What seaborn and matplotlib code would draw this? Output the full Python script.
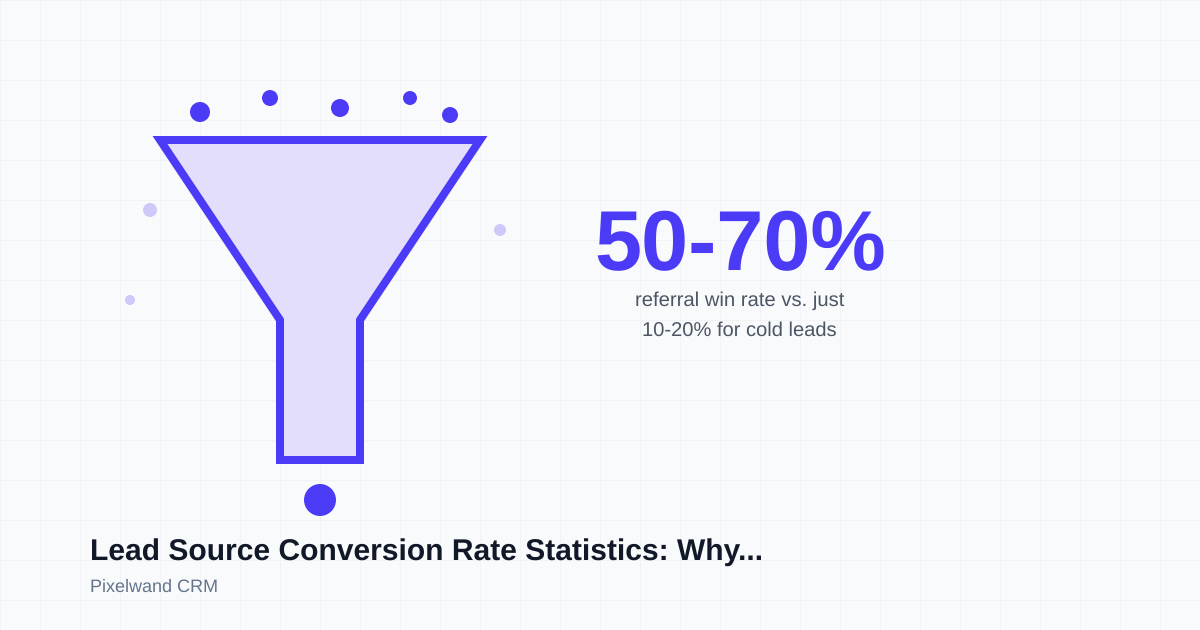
import numpy as np
import pandas as pd
import matplotlib
matplotlib.use('Agg')
import matplotlib.pyplot as plt
import seaborn as sns

# funnel outline in image pixels
funnel_x = [160, 480, 360, 360, 280, 280]
funnel_y = [140, 140, 320, 460, 460, 320]

# falling dots: x, y, radius
dot_x = [200, 270, 340, 410, 450, 320]
dot_y = [112, 98, 108, 98, 115, 500]
dot_r = [10, 8, 9, 7, 8, 16]

# faint dots
faint_x = [150, 500, 130]
faint_y = [210, 230, 300]
faint_r = [7, 6, 5]

stat_text = '50-70%'
caption_lines = ['referral win rate vs. just', '10-20% for cold leads']
title_text = 'Lead Source Conversion Rate Statistics: Why...'
source_text = 'Pixelwand CRM'

INDIGO = '#4c3bf6'
PX = 0.72  # points per pixel at dpi 100

sns.set_theme(style='whitegrid', rc={
    'figure.facecolor': '#f9fafc',
    'axes.facecolor': '#f9fafc',
    'grid.color': '#f1f3f6',
    'grid.linewidth': PX,
    'axes.linewidth': 0,
})
plt.rcParams['font.family'] = ['Liberation Sans', 'DejaVu Sans']
plt.rcParams['text.hinting'] = 'no_hinting'

fig = plt.figure(figsize=(12, 6.3), dpi=100)
ax = fig.add_axes([0, 0, 1, 1])

ax.fill(funnel_x, funnel_y, facecolor='#e3defc', edgecolor=INDIGO,
        linewidth=8 * PX, joinstyle='miter', zorder=2)

dots = pd.DataFrame({'x': dot_x, 'y': dot_y, 'r': dot_r})
faint = pd.DataFrame({'x': faint_x, 'y': faint_y, 'r': faint_r})

sns.scatterplot(data=dots, x='x', y='y', ax=ax, color=INDIGO, linewidth=0,
                s=(2 * dots['r'] * PX) ** 2, zorder=3, legend=False)
sns.scatterplot(data=faint, x='x', y='y', ax=ax, color=INDIGO, linewidth=0, alpha=0.25,
                s=(2 * faint['r'] * PX) ** 2, zorder=3, legend=False)

ax.text(740, 270, stat_text, color=INDIGO, fontsize=84.7 * PX, fontweight='bold',
        ha='center', va='baseline')
ax.text(739.5, 306, caption_lines[0], color='#4b5563', fontsize=20.25 * PX, ha='center', va='baseline')
ax.text(739.5, 336, caption_lines[1], color='#4b5563', fontsize=20.1 * PX, ha='center', va='baseline')
ax.text(90, 560, title_text, color='#111827', fontsize=30.05 * PX, fontweight='bold', va='baseline')
ax.text(90, 592, source_text, color='#64748b', fontsize=18 * PX, va='baseline')

ax.set_xlim(0, 1200)
ax.set_ylim(630, 0)
ax.set_xticks(np.arange(0, 1201, 40))
ax.set_yticks(np.arange(0, 631, 40))
ax.set_xlabel('')
ax.set_ylabel('')
ax.tick_params(length=0, labelbottom=False, labelleft=False)
ax.set_axisbelow(True)
sns.despine(ax=ax, left=True, bottom=True)

fig.savefig('out.png', dpi=100, facecolor=fig.get_facecolor())
plt.close(fig)
